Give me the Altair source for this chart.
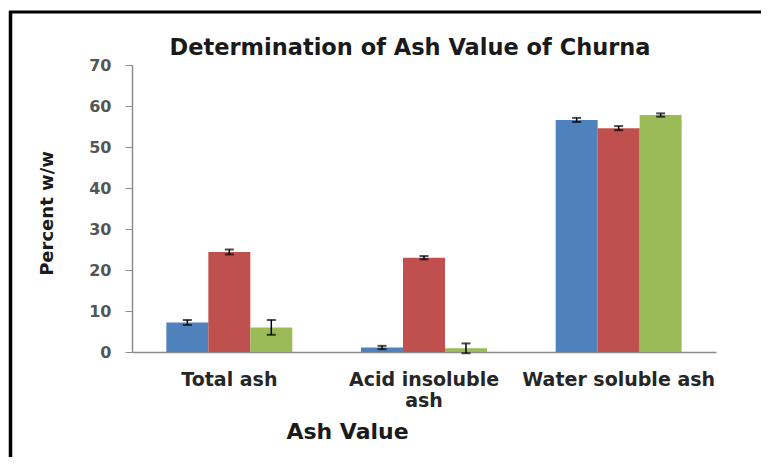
import altair as alt
import pandas as pd

categories = ["Total ash", "Acid insoluble ash", "Water soluble ash"]
series = ["Series 1", "Series 2", "Series 3"]
colors = ["#4F81BD", "#C0504D", "#9BBB59"]

s1_values = [7.2, 1.1, 56.6]
s2_values = [24.4, 23.0, 54.6]
s3_values = [6.0, 0.9, 57.8]

s1_err = [0.6, 0.4, 0.5]
s2_err = [0.6, 0.4, 0.5]
s3_err = [1.8, 1.2, 0.4]

y_ticks = [0, 10, 20, 30, 40, 50, 60, 70]

rows = []
for name, vals, errs in [("Series 1", s1_values, s1_err),
                         ("Series 2", s2_values, s2_err),
                         ("Series 3", s3_values, s3_err)]:
    for c, v, e in zip(categories, vals, errs):
        rows.append({"category": c, "series": name, "value": v,
                     "lo": v - e, "hi": v + e})
df = pd.DataFrame(rows)

FONT = "DejaVu Sans"

x_enc = alt.X(
    "category:N", sort=categories,
    scale=alt.Scale(paddingInner=0.353, paddingOuter=0.1765),
    axis=alt.Axis(
        title="Ash Value", titleFont=FONT, titleFontSize=22, titleFontWeight="bold",
        titleColor="#1a1a1a", titleX=215, titleY=79, titleAnchor="middle",
        titleAlign="center", titleBaseline="middle",
        labelAngle=0, labelFont=FONT, labelFontSize=19, labelFontWeight="bold",
        labelColor="#262626", labelPadding=18, labelBaseline="top", labelLineHeight=21,
        labelLimit=400, labelOverlap=False,
        labelExpr="datum.label == 'Acid insoluble ash' ? ['Acid insoluble', 'ash'] : datum.label",
        ticks=False, tickSize=0, domainColor="#8c8c8c", domainWidth=1.5,
    ),
)
xo_enc = alt.XOffset("series:N", sort=series,
                     scale=alt.Scale(paddingInner=0, paddingOuter=0))

y_axis = alt.Axis(
    title="Percent w/w", titleFont=FONT, titleFontSize=18, titleFontWeight="bold",
    titleColor="#1a1a1a", titleAngle=-90, titleX=-85, titleY=148,
    titleAlign="center", titleBaseline="middle",
    values=y_ticks, grid=False, labelFont=FONT, labelFontSize=16, labelFontWeight="bold",
    labelColor="#555555", labelPadding=14, tickSize=7, tickColor="#8c8c8c",
    domainColor="#8c8c8c", domainWidth=1.5,
)
y_scale = alt.Scale(domain=[0, 70], nice=False)

base = alt.Chart(df).encode(x=x_enc, xOffset=xo_enc)

bars = base.mark_bar().encode(
    y=alt.Y("value:Q", scale=y_scale, axis=y_axis),
    color=alt.Color("series:N", scale=alt.Scale(domain=series, range=colors), legend=None),
)
rules = base.mark_rule(color="black", strokeWidth=1.5).encode(
    y=alt.Y("lo:Q", scale=y_scale, axis=y_axis), y2="hi:Q")
caps_hi = base.mark_tick(color="black", size=9, thickness=2).encode(
    y=alt.Y("hi:Q", scale=y_scale, axis=y_axis))
caps_lo = base.mark_tick(color="black", size=9, thickness=2).encode(
    y=alt.Y("lo:Q", scale=y_scale, axis=y_axis))

deco = pd.DataFrame({"k": [0]})
frame_left = alt.Chart(deco).mark_rule(color="black", strokeWidth=3.5).encode(
    x=alt.value(-121.5), y=alt.value(-54), y2=alt.value(400))
frame_top = alt.Chart(deco).mark_rule(color="black", strokeWidth=3).encode(
    x=alt.value(-123), x2=alt.value(640), y=alt.value(-53))

chart = alt.layer(bars, rules, caps_hi, caps_lo, frame_left, frame_top).properties(
    width=584, height=287,
    autosize="none",
    padding={"left": 124, "top": 57, "right": 45, "bottom": 105},
    title=alt.TitleParams(
        "Determination of Ash Value of Churna", font=FONT, fontSize=22.5,
        fontWeight="bold", color="#1a1a1a", anchor="middle", frame="group",
        dx=-14, dy=78, offset=10, baseline="alphabetic",
    ),
).configure(background="white", view=alt.ViewConfig(stroke=None))

chart.save("out.html", embed_options={"renderer": "svg", "actions": False})
